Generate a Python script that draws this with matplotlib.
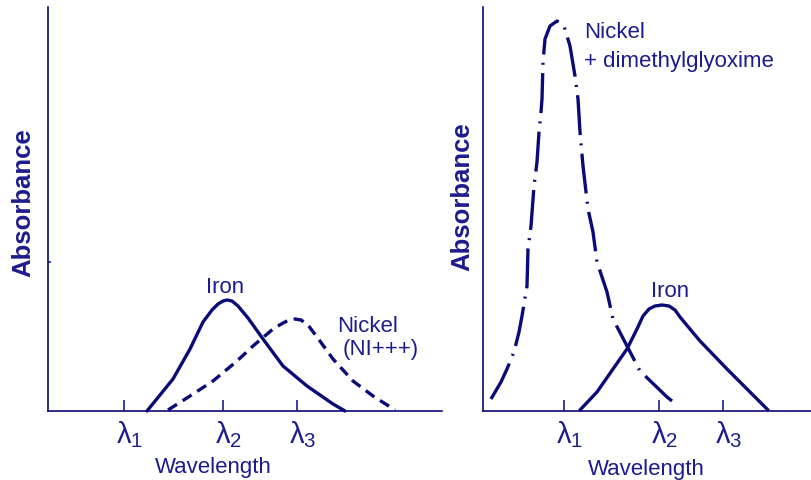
import matplotlib
matplotlib.use("Agg")
import matplotlib.pyplot as plt
from matplotlib.transforms import ScaledTranslation

plt.rcParams['font.family'] = ['Liberation Sans', 'DejaVu Sans']
plt.rcParams['mathtext.fontset'] = 'custom'
plt.rcParams['mathtext.rm'] = 'Liberation Sans'
plt.rcParams['mathtext.it'] = 'Liberation Sans:italic'
plt.rcParams['mathtext.bf'] = 'Liberation Sans:bold'
plt.rcParams['mathtext.default'] = 'regular'

# ---- data (arbitrary wavelength / absorbance units) ----
tick_labels = [r'$\lambda_1$', r'$\lambda_2$', r'$\lambda_3$']

left_ticks = [76, 175, 249]
left_iron_x = [99, 125, 142, 155, 164, 170, 175, 179, 184, 190, 200, 215, 235, 259, 285, 297]
left_iron_y = [0, 32, 62, 89, 101, 107, 110, 111, 110, 105, 93, 72, 45, 25, 7, 0]
left_nickel_x = [120, 142, 165, 189, 205, 225, 235, 241, 247, 253, 260, 269, 285, 305, 325, 347]
left_nickel_y = [1, 15, 30, 50, 65, 82, 88, 91, 92, 91, 86, 74, 52, 30, 15, 1]

right_ticks = [81, 176, 240]
right_nickel_x = [8, 18, 24, 31, 36, 39, 44, 45, 48, 51, 54, 56, 58, 59, 60, 62, 67, 74, 81, 87,
                  92, 95, 97, 100, 105, 110, 114, 124, 130, 144, 157, 184, 189]
right_nickel_y = [12, 29, 42, 59, 79, 95, 125, 162, 185, 225, 249, 279, 299, 312, 349, 372, 385,
                  390, 385, 365, 335, 312, 279, 245, 202, 179, 149, 119, 92, 65, 40, 14, 10]
right_iron_x = [97, 114, 130, 144, 154, 160, 166, 172, 179, 186, 192, 197, 217, 244, 267, 285]
right_iron_y = [1, 19, 42, 62, 82, 95, 102, 105, 106, 105, 101, 94, 70, 42, 19, 1]

LINE = '#0b0b78'
TEXT = '#1c1c8e'
W, H = 812, 481

fig = plt.figure(figsize=(W / 100, H / 100), dpi=100)
axL = fig.add_axes([48 / W, (H - 412) / H, (442 - 48) / W, (412 - 8) / H])
axR = fig.add_axes([483 / W, (H - 412) / H, (812 - 483) / W, (412 - 8) / H])

for ax, xmax in ((axL, 394), (axR, 329)):
    ax.set_xlim(0, xmax)
    ax.set_ylim(0, 404)
    for s in ('top', 'right'):
        ax.spines[s].set_visible(False)
    for s in ('left', 'bottom'):
        ax.spines[s].set_color(LINE)
        ax.spines[s].set_linewidth(1.2)
    ax.tick_params(axis='x', direction='in', length=8, width=1.1, color=LINE,
                   labelsize=21, labelcolor=TEXT, pad=5)
    ax.patch.set_alpha(0)

axL.set_yticks([149])
axL.set_yticklabels([])
axL.tick_params(axis='y', direction='in', length=2, width=1.1, color=LINE)
axR.set_yticks([])

axL.set_xticks(left_ticks)
axL.set_xticklabels(tick_labels)
axR.set_xticks(right_ticks)
axR.set_xticklabels(tick_labels)
for ax in (axL, axR):
    for lbl in ax.get_xticklabels():
        lbl.set_transform(lbl.get_transform() + ScaledTranslation(6 / 100, 0, fig.dpi_scale_trans))

# curves
axL.plot(left_iron_x, left_iron_y, color=LINE, lw=2.4, solid_capstyle='round',
         solid_joinstyle='round', clip_on=False)
axL.plot(left_nickel_x, left_nickel_y, color=LINE, lw=2.4, linestyle=(0, (3.2, 2.0)), clip_on=False)
axR.plot(right_nickel_x, right_nickel_y, color=LINE, lw=2.4, linestyle=(0, (12, 2.5, 0.6, 2.5)),
         clip_on=False)
axR.plot(right_iron_x, right_iron_y, color=LINE, lw=2.4, solid_capstyle='round',
         solid_joinstyle='round', clip_on=False)

# annotations
fs = 16
axL.text(177, 119, 'Iron', color=TEXT, fontsize=fs, ha='center', va='baseline')
axL.text(289, 80, 'Nickel', color=TEXT, fontsize=fs, ha='left', va='baseline')
axL.text(295, 57, '(NI+++)', color=TEXT, fontsize=fs, ha='left', va='baseline')
axR.text(101, 374, 'Nickel', color=TEXT, fontsize=fs, ha='left', va='baseline')
axR.text(101, 345, '+ dimethylglyoxime', color=TEXT, fontsize=fs, ha='left', va='baseline')
axR.text(187, 115, 'Iron', color=TEXT, fontsize=fs, ha='center', va='baseline')

axL.text(165, -61, 'Wavelength', color=TEXT, fontsize=fs, ha='center', va='baseline', clip_on=False)
axR.text(163, -63, 'Wavelength', color=TEXT, fontsize=fs, ha='center', va='baseline', clip_on=False)

fig.text(23 / W, 1 - 203 / H, 'Absorbance', color=TEXT, fontsize=18.5, fontweight='bold',
         rotation=90, ha='center', va='center')
fig.text(462 / W, 1 - 197 / H, 'Absorbance', color=TEXT, fontsize=18.5, fontweight='bold',
         rotation=90, ha='center', va='center')

fig.savefig('out.png', dpi=100)
